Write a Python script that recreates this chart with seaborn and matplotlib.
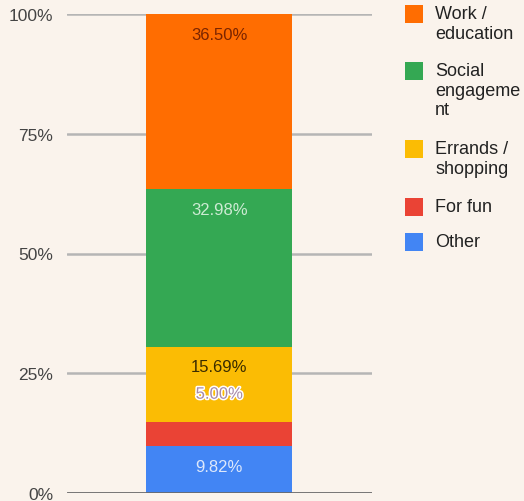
import matplotlib
matplotlib.use("Agg")
import matplotlib.pyplot as plt
import seaborn as sns
import numpy as np
from matplotlib.patches import Rectangle
import matplotlib.patheffects as pe

categories = ["Other", "For fun", "Errands / shopping", "Social engagement", "Work / education"]
legend_labels = ["Other", "For fun", "Errands /\nshopping", "Social\nengageme\nnt", "Work /\neducation"]
values = [9.82, 5.00, 15.69, 32.98, 36.50]
colors = ["#4285f4", "#ea4335", "#fbbc04", "#34a853", "#ff6d01"]
label_colors = ["#dde8fb", "#a88aa8", "#3a2c00", "#cdebd3", "#7a2400"]
yticks = [0, 25, 50, 75, 100]
ytick_labels = ["0%", "25%", "50%", "75%", "100%"]

bg = "#faf3ec"
sns.set_theme(style="white")
plt.rcParams["font.family"] = ["Liberation Sans", "DejaVu Sans"]

fig = plt.figure(figsize=(5.24, 5.02), dpi=100, facecolor=bg)
W, H = 524, 502
ax = fig.add_axes([67 / W, (H - 494) / H, (372 - 67) / W, (494 - 15) / H])
ax.set_facecolor(bg)

cum = np.cumsum(values)

# gridlines
for t in yticks[1:]:
    ax.axhline(t, color="#b5b5b5", lw=1.8, zorder=0)
ax.axhline(0, color="#6a6a6a", lw=2.0, zorder=3)

# stacked bar: draw from tallest cumulative to shortest
for i in range(len(values) - 1, -1, -1):
    sns.barplot(x=["total"], y=[cum[i]], color=colors[i], width=146 / 305,
                saturation=1, linewidth=0, ax=ax, zorder=2)

ax.set_xlim(-0.499, 0.501)
ax.set_ylim(0, 100)
ax.set_xticks([])
ax.set_xlabel("")
ax.set_ylabel("")
ax.set_yticks(yticks)
ax.set_yticklabels(ytick_labels, fontsize=12.5, color="#444444")
ax.tick_params(axis="y", length=0, pad=10)
for s in ax.spines.values():
    s.set_visible(False)

# value labels
for i, v in enumerate(values):
    txt = f"{v:.2f}%"
    if i == 1:
        ax.annotate(txt, xy=(0, cum[i]), xytext=(0, 20), textcoords="offset points",
                    ha="center", va="center", fontsize=12, color=label_colors[i], zorder=5,
                    path_effects=[pe.withStroke(linewidth=2.2, foreground="white")])
    else:
        ax.annotate(txt, xy=(0, cum[i]), xytext=(0, -14.5), textcoords="offset points",
                    ha="center", va="center", fontsize=12, color=label_colors[i], zorder=5)

# legend (manual, Google-chart style)
order = list(range(len(values) - 1, -1, -1))
y_first = [15, 72, 150, 208, 243]
for k, i in enumerate(order):
    yc = y_first[k]
    fig.patches.append(Rectangle((405 / W, (H - yc - 9) / H), 18 / W, 18 / H,
                                 transform=fig.transFigure, facecolor=colors[i],
                                 edgecolor="none", figure=fig))
    fig.text(435 / W, (H - yc + 9) / H, legend_labels[i], ha="left", va="top",
             fontsize=13, color="#222222", linespacing=1.2)

fig.savefig("out.png", dpi=100, facecolor=bg)
